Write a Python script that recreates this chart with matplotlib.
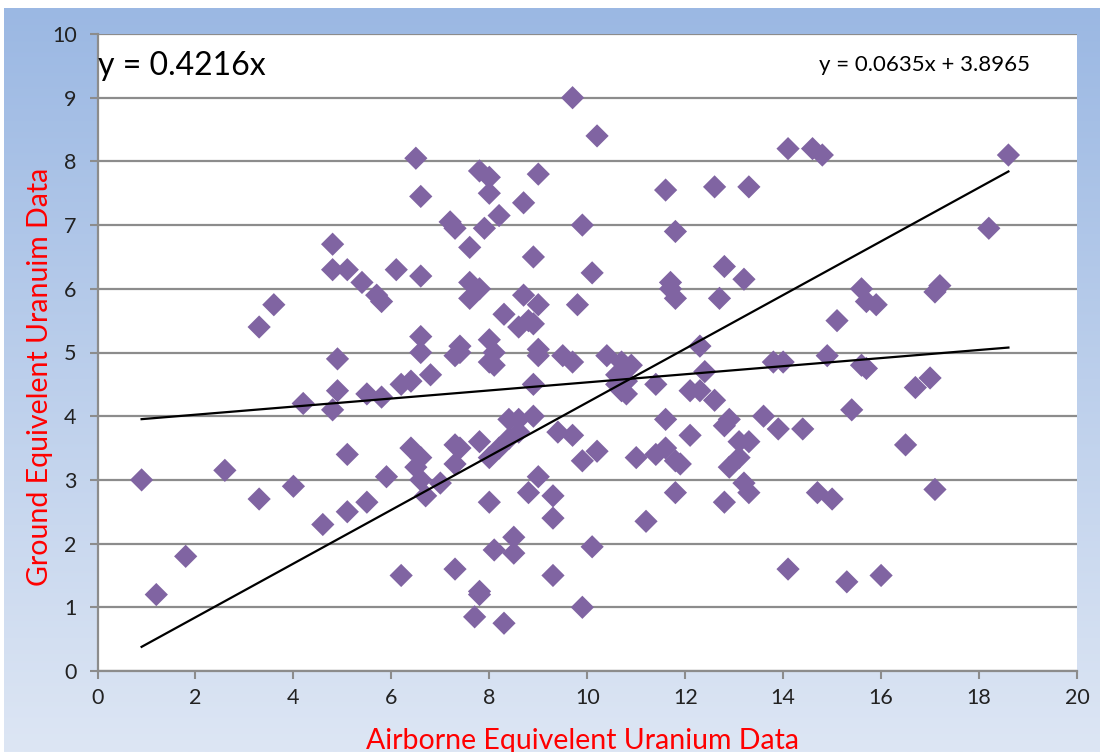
import numpy as np
import matplotlib
matplotlib.use("Agg")
import matplotlib.pyplot as plt
from matplotlib.colors import LinearSegmentedColormap

# Airborne vs ground equivalent uranium readings
airborne = [
    0.9, 1.2, 1.8, 2.6, 3.3, 3.3, 3.6, 4.0, 4.2, 4.6,
    4.8, 4.8, 4.8, 4.9, 4.9, 5.1, 5.1, 5.1, 5.4, 5.5,
    5.5, 5.7, 5.8, 5.8, 5.9, 6.1, 6.2, 6.2, 6.4, 6.4,
    6.5, 6.5, 6.6, 6.6, 6.6, 6.6, 6.6, 6.6, 6.7, 6.8,
    7.0, 7.2, 7.3, 7.3, 7.3, 7.3, 7.3, 7.4, 7.4, 7.4,
    7.6, 7.6, 7.6, 7.7, 7.8, 7.8, 7.8, 7.8, 7.8, 7.9,
    8.0, 8.0, 8.0, 8.0, 8.0, 8.0, 8.1, 8.1, 8.1, 8.2,
    8.2, 8.3, 8.3, 8.4, 8.4, 8.5, 8.5, 8.6, 8.6, 8.6,
    8.7, 8.7, 8.8, 8.8, 8.9, 8.9, 8.9, 8.9, 9.0, 9.0,
    9.0, 9.0, 9.0, 9.3, 9.3, 9.3, 9.4, 9.5, 9.7, 9.7,
    9.7, 9.8, 9.9, 9.9, 9.9, 10.1, 10.1, 10.2, 10.2, 10.4,
    10.6, 10.6, 10.7, 10.7, 10.8, 10.8, 10.8, 10.9, 11.0, 11.2,
    11.4, 11.4, 11.6, 11.6, 11.6, 11.7, 11.7, 11.8, 11.8, 11.8,
    11.8, 11.9, 12.1, 12.1, 12.3, 12.3, 12.4, 12.6, 12.6, 12.7,
    12.8, 12.8, 12.8, 12.9, 12.9, 13.1, 13.1, 13.2, 13.2, 13.3,
    13.3, 13.3, 13.6, 13.8, 13.9, 14.0, 14.1, 14.1, 14.4, 14.6,
    14.7, 14.8, 14.9, 15.0, 15.1, 15.3, 15.4, 15.6, 15.6, 15.7,
    15.7, 15.9, 16.0, 16.5, 16.7, 17.0, 17.1, 17.1, 17.2, 18.2,
    18.6,
]
ground = [
    3.0, 1.2, 1.8, 3.15, 5.4, 2.7, 5.75, 2.9, 4.2, 2.3,
    6.7, 6.3, 4.1, 4.9, 4.4, 6.3, 3.4, 2.5, 6.1, 4.35,
    2.65, 5.9, 5.8, 4.3, 3.05, 6.3, 4.5, 1.5, 4.55, 3.5,
    8.05, 3.2, 7.45, 6.2, 5.25, 5.0, 3.35, 3.0, 2.75, 4.65,
    2.95, 7.05, 6.95, 4.95, 3.55, 3.25, 1.6, 5.1, 5.0, 3.5,
    6.65, 6.1, 5.85, 0.85, 7.85, 6.0, 3.6, 1.25, 1.2, 6.95,
    7.75, 7.5, 5.2, 4.85, 3.35, 2.65, 5.0, 4.8, 1.9, 7.15,
    3.5, 5.6, 0.75, 3.95, 3.65, 2.1, 1.85, 5.4, 3.95, 3.75,
    7.35, 5.9, 5.5, 2.8, 6.5, 5.45, 4.5, 4.0, 7.8, 5.75,
    5.05, 4.95, 3.05, 2.75, 2.4, 1.5, 3.75, 4.95, 9.0, 4.85,
    3.7, 5.75, 7.0, 3.3, 1.0, 6.25, 1.95, 8.4, 3.45, 4.95,
    4.65, 4.5, 4.85, 4.4, 4.75, 4.55, 4.35, 4.8, 3.35, 2.35,
    4.5, 3.4, 7.55, 3.95, 3.5, 6.1, 6.0, 6.9, 5.85, 3.3,
    2.8, 3.25, 4.4, 3.7, 5.1, 4.4, 4.7, 7.6, 4.25, 5.85,
    6.35, 3.85, 2.65, 3.95, 3.2, 3.6, 3.35, 2.95, 6.15, 7.6,
    3.6, 2.8, 4.0, 4.85, 3.8, 4.85, 8.2, 1.6, 3.8, 8.2,
    2.8, 8.1, 4.95, 2.7, 5.5, 1.4, 4.1, 6.0, 4.8, 5.8,
    4.75, 5.75, 1.5, 3.55, 4.45, 4.6, 5.95, 2.85, 6.05, 6.95,
    8.1,
]

# Trendline coefficients
slope_origin = 0.4216
slope_lin, intercept_lin = 0.0635, 3.8965

x_ticks = [0, 2, 4, 6, 8, 10, 12, 14, 16, 18, 20]
y_ticks = [0, 1, 2, 3, 4, 5, 6, 7, 8, 9, 10]

font = "Lato"
grid_col = "#8c8c8c"
marker_col = "#8064A2"

fig = plt.figure(figsize=(11.02, 7.52), dpi=100)

# gradient chart-area background
bg = fig.add_axes([0.004, 0.0, 0.994, 0.99], zorder=0)
cmap = LinearSegmentedColormap.from_list("bg", ["#9bb8e3", "#dde6f4"])
bg.imshow(np.linspace(0, 1, 256).reshape(-1, 1), aspect="auto", cmap=cmap,
          extent=[0, 1, 0, 1])
bg.set_axis_off()

ax = fig.add_axes([0.0885, 0.1077, 0.8888, 0.8471], zorder=1)
ax.set_facecolor("white")
ax.set_xlim(0, 20)
ax.set_ylim(0, 10)
ax.set_xticks(x_ticks)
ax.set_yticks(y_ticks)
ax.set_xticklabels([str(t) for t in x_ticks], fontsize=15.5, family=font, color="#222222")
ax.set_yticklabels([str(t) for t in y_ticks], fontsize=15.5, family=font, color="#222222")
ax.tick_params(axis="both", direction="out", length=6, width=1.5, color=grid_col, pad=6)
ax.tick_params(axis="y", pad=9)
ax.grid(axis="y", color=grid_col, lw=1.6)
ax.set_axisbelow(True)
for side in ["top", "right"]:
    ax.spines[side].set_visible(False)
for side in ["left", "bottom"]:
    ax.spines[side].set_color(grid_col)
    ax.spines[side].set_linewidth(1.6)

ax.scatter(airborne, ground, marker="D", s=140, color=marker_col, edgecolor="none", zorder=3)

xs = np.array([min(airborne), max(airborne)])
ax.plot(xs, slope_origin * xs, color="black", lw=1.6, zorder=4)
ax.plot(xs, slope_lin * xs + intercept_lin, color="black", lw=1.6, zorder=4)

ax.text(0.0, 9.5, "y = 0.4216x", fontsize=23, family=font, ha="left", va="center", color="black")
ax.text(19.05, 9.52, "y = 0.0635x + 3.8965", fontsize=16, family=font, ha="right", va="center", color="black")

fig.text(0.036, 0.499, "Ground Equivelent Uranuim Data", rotation=90, fontsize=20.5, family=font,
         color="red", ha="center", va="center")
fig.text(0.529, 0.014, "Airborne Equivelent Uranium Data", fontsize=20.5, family=font,
         color="red", ha="center", va="center")

fig.savefig("out.png", dpi=100)
